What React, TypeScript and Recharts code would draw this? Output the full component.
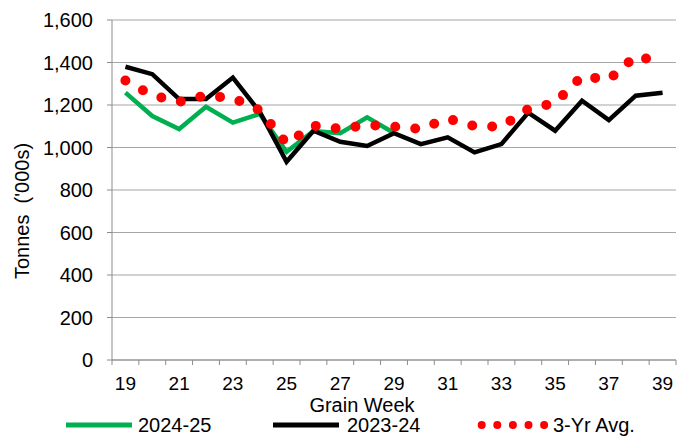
import React from "react"
import { CartesianGrid, Label, Line, LineChart, XAxis, YAxis } from "recharts"

// grain weeks on the x axis
const weeks = [19, 20, 21, 22, 23, 24, 25, 26, 27, 28, 29, 30, 31, 32, 33, 34, 35, 36, 37, 38, 39]

// tonnes ('000s)
const season2425: (number | null)[] = [
  1258, 1148, 1087, 1192, 1117, 1158, 980, 1077, 1067, 1142, 1068,
  null, null, null, null, null, null, null, null, null, null,
]
const season2324 = [
  1380, 1345, 1228, 1228, 1329, 1168, 933, 1079, 1027, 1007, 1067,
  1016, 1048, 977, 1016, 1164, 1079, 1220, 1129, 1244, 1258,
]
const threeYrAvg = [
  1315, 1245, 1215, 1245, 1232, 1176, 1018, 1103, 1088, 1106, 1098,
  1087, 1136, 1100, 1098, 1181, 1210, 1335, 1320, 1430, 1400,
]

const yTicks = [0, 200, 400, 600, 800, 1000, 1200, 1400, 1600]
const labelTicks = [19, 21, 23, 25, 27, 29, 31, 33, 35, 37, 39]
// tick marks sit between the weeks
const markTicks = [...weeks.map((w) => w - 0.5), 39.5]

const data = weeks.map((week, i) => ({
  week,
  s2425: season2425[i],
  s2324: season2324[i],
  avg: threeYrAvg[i],
}))

const FONT = "'Liberation Sans', Arial, sans-serif"
const FS = 20
const GRID = "#A6A6A6"
const AXIS = "#8C8C8C"

const YTitle = ({ viewBox }: any) => {
  const x = viewBox.x + 22
  const y = viewBox.y + viewBox.height / 2 + 21
  return (
    <text
      x={x}
      y={y}
      transform={`rotate(-90, ${x}, ${y})`}
      textAnchor="middle"
      dominantBaseline="central"
      fontFamily={FONT}
      fontSize={FS}
      fill="#000"
      style={{ whiteSpace: "pre" }}
    >
      {"Tonnes  ('000s)"}
    </text>
  )
}

const XTitle = ({ viewBox }: any) => (
  <text
    x={viewBox.x + viewBox.width / 2 - 32}
    y={viewBox.y + 39}
    textAnchor="middle"
    dominantBaseline="central"
    fontFamily={FONT}
    fontSize={FS}
    fill="#000"
  >
    Grain Week
  </text>
)

const ChartLegend = () => (
  <svg width={686} height={436} style={{ position: "absolute", left: 0, top: 0, pointerEvents: "none" }}>
    <g fontFamily={FONT} fontSize={FS} fill="#000">
      <line x1={66} x2={132} y1={425} y2={425} stroke="#00B050" strokeWidth={5} />
      <text x={138} y={432}>2024-25</text>
      <line x1={273} x2={339} y1={425} y2={425} stroke="#000" strokeWidth={5} />
      <text x={347} y={432}>2023-24</text>
      <line
        x1={481.7}
        x2={545}
        y1={425}
        y2={425}
        stroke="#FF0000"
        strokeWidth={8}
        strokeLinecap="round"
        strokeDasharray="0 15.6"
      />
      <text x={553} y={432}>3-Yr Avg.</text>
    </g>
  </svg>
)

export default function App() {
  return (
    <div style={{ position: "absolute", left: 0, top: 0, width: 686, height: 436, background: "#fff" }}>
      <LineChart width={686} height={436} data={data} margin={{ top: 20, right: 10, left: 0, bottom: 0 }}>
        <CartesianGrid vertical={false} stroke={GRID} strokeWidth={1.2} />
        <XAxis
          dataKey="week"
          type="number"
          domain={[18.5, 39.5]}
          allowDataOverflow
          ticks={markTicks}
          interval={0}
          height={6}
          tickSize={5}
          tickFormatter={() => ""}
          stroke={AXIS}
          tickLine={{ stroke: AXIS }}
        />
        <XAxis
          xAxisId="labels"
          dataKey="week"
          type="number"
          domain={[18.5, 39.5]}
          allowDataOverflow
          ticks={labelTicks}
          interval={0}
          height={70}
          axisLine={false}
          tickLine={false}
          tickSize={0}
          tickMargin={11}
          tick={{ fontFamily: FONT, fontSize: 19, fill: "#000" }}
        >
          <Label content={<XTitle />} />
        </XAxis>
        <YAxis
          width={112}
          domain={[0, 1600]}
          ticks={yTicks}
          interval={0}
          tickSize={5}
          tickMargin={14}
          stroke={AXIS}
          tickLine={{ stroke: AXIS }}
          tickFormatter={(v: number) => v.toLocaleString("en-US")}
          tick={{ fontFamily: FONT, fontSize: FS, fill: "#000" }}
        >
          <Label content={<YTitle />} />
        </YAxis>
        <Line
          dataKey="s2425"
          stroke="#00B050"
          strokeWidth={4.5}
          dot={false}
          activeDot={false}
          isAnimationActive={false}
        />
        <Line
          dataKey="s2324"
          stroke="#000000"
          strokeWidth={4.5}
          dot={false}
          activeDot={false}
          isAnimationActive={false}
        />
        <Line
          dataKey="avg"
          stroke="#FF0000"
          strokeWidth={10}
          strokeDasharray="0 20"
          strokeLinecap="round"
          dot={false}
          activeDot={false}
          isAnimationActive={false}
        />
      </LineChart>
      <ChartLegend />
    </div>
  )
}
